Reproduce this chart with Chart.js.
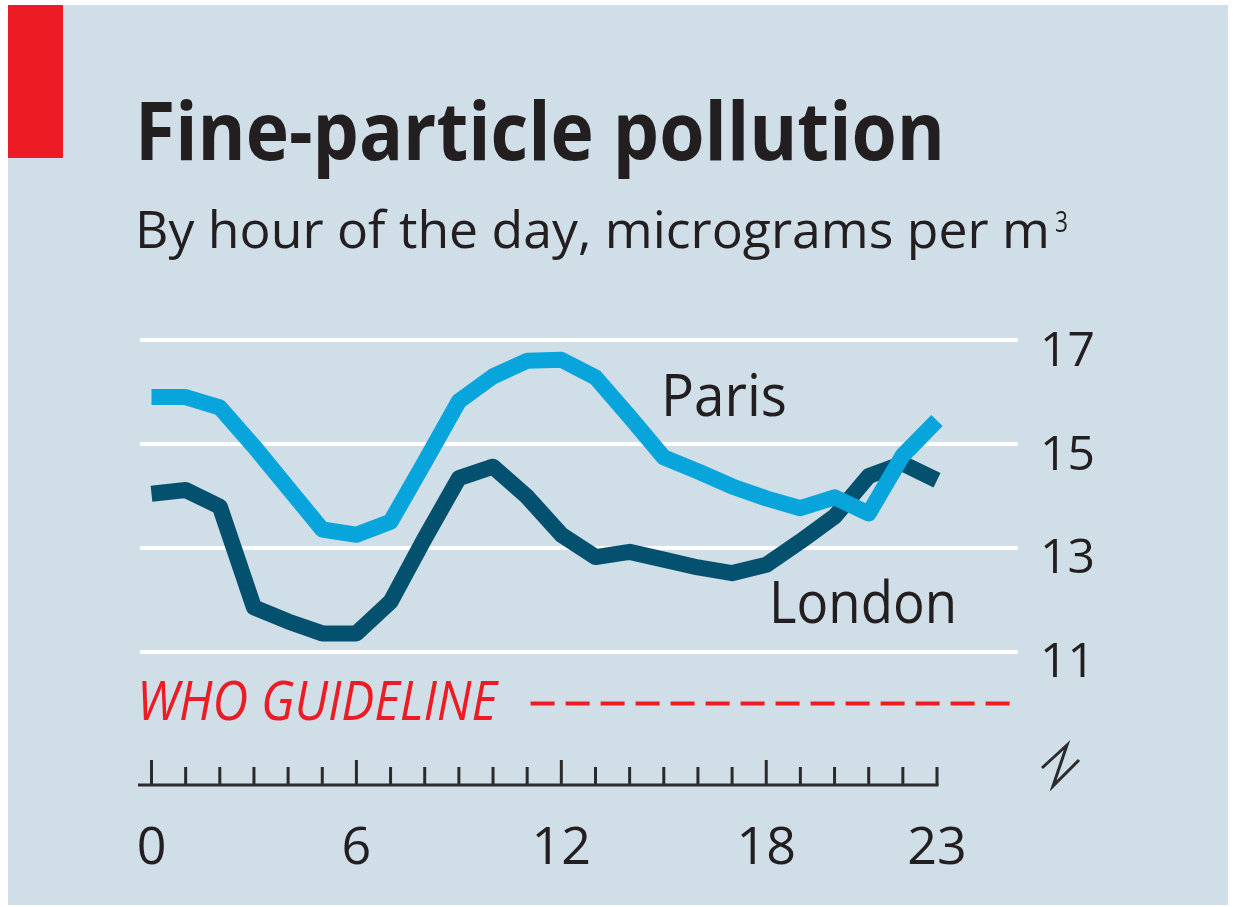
<!DOCTYPE html>
<html>
<head>
<meta charset="utf-8">
<script src="https://cdn.jsdelivr.net/npm/chart.js@4/dist/chart.umd.min.js"></script>
<style>
  html, body { margin: 0; padding: 0; background: #ffffff; }
  #wrap { width: 1233px; height: 907px; position: relative; }
  canvas { display: block; }
</style>
</head>
<body>
<div id="wrap"><canvas id="c" width="1233" height="907"></canvas></div>
<script>
// ---- data ----
const hours = [0, 1, 2, 3, 4, 5, 6, 7, 8, 9, 10, 11, 12, 13, 14, 15, 16, 17, 18, 19, 20, 21, 22, 23];
const paris = [15.9, 15.9, 15.7, 14.95, 14.15, 13.35, 13.25, 13.5, 14.65, 15.82, 16.3, 16.6, 16.62, 16.28, 15.52, 14.74, 14.47, 14.18, 13.95, 13.76, 13.97, 13.66, 14.78, 15.45];
const london = [14.04, 14.11, 13.79, 11.85, 11.58, 11.35, 11.35, 11.96, 13.18, 14.34, 14.56, 13.98, 13.25, 12.82, 12.92, 12.77, 12.62, 12.51, 12.67, 13.12, 13.6, 14.38, 14.62, 14.3];
const xTickLabels = [0, 6, 12, 18, 23];
const xMajorTicks = [0, 6, 12, 18];
const yTickValues = [11, 13, 15, 17];
const whoGuideline = 10;
const whoSpan = [11.1, 25.4];

const titleText = 'Fine-particle pollution';
const subtitleText = 'By hour of the day, micrograms per m';
const seriesNames = ['Paris', 'London'];

// ---- styles ----
const BG = '#cfdee7';
const RED = '#ed1c24';
const PARIS_C = '#07a5dc';
const LONDON_C = '#04506f';
const TEXT_C = '#231f20';
const FONT = '"Open Sans", "Noto Sans", "DejaVu Sans", sans-serif';

function fitText(ctx, text, x, y, font, width, color) {
  ctx.save();
  ctx.font = font;
  ctx.fillStyle = color;
  ctx.textBaseline = 'alphabetic';
  ctx.textAlign = 'left';
  const w = ctx.measureText(text).width;
  ctx.translate(x, y);
  ctx.scale(width / w, 1);
  ctx.fillText(text, 0, 0);
  ctx.restore();
}

const decor = {
  id: 'decor',
  beforeDraw(chart) {
    const ctx = chart.ctx;
    ctx.save();
    ctx.fillStyle = '#ffffff';
    ctx.fillRect(0, 0, chart.width, chart.height);
    ctx.fillStyle = BG;
    ctx.fillRect(8, 5, 1220, 900);
    ctx.fillStyle = RED;
    ctx.fillRect(8, 5, 55, 153);
    ctx.restore();

    // title & subtitle
    fitText(ctx, titleText, 135, 160, 'bold 80px ' + FONT, 810, TEXT_C);
    fitText(ctx, subtitleText, 135, 248, '52px ' + FONT, 915, TEXT_C);
    fitText(ctx, '3', 1055, 232, '30px ' + FONT, 13, TEXT_C);

    // gridlines
    const ys = chart.scales.y;
    ctx.save();
    ctx.strokeStyle = '#ffffff';
    ctx.lineWidth = 4;
    yTickValues.forEach(v => {
      const py = Math.round(ys.getPixelForValue(v));
      ctx.beginPath();
      ctx.moveTo(140, py);
      ctx.lineTo(1018, py);
      ctx.stroke();
    });
    ctx.restore();
  },
  afterDraw(chart) {
    const ctx = chart.ctx;
    const xs = chart.scales.x;
    const base = chart.chartArea.bottom;
    ctx.save();
    ctx.strokeStyle = '#2b2b2b';
    ctx.lineWidth = 3;
    ctx.beginPath();
    ctx.moveTo(138, base);
    ctx.lineTo(xs.getPixelForValue(23) + 1.5, base);
    ctx.stroke();
    hours.forEach(h => {
      const px = xs.getPixelForValue(h);
      const len = xMajorTicks.includes(h) ? 25 : 18;
      ctx.beginPath();
      ctx.moveTo(px, base);
      ctx.lineTo(px, base - len);
      ctx.stroke();
    });
    // axis break symbol
    ctx.lineWidth = 3;
    ctx.lineJoin = 'miter';
    ctx.beginPath();
    ctx.moveTo(1042, 768);
    ctx.lineTo(1067, 745);
    ctx.lineTo(1053, 786);
    ctx.lineTo(1079, 760);
    ctx.stroke();
    ctx.restore();

    // series labels
    fitText(ctx, seriesNames[0], 661, 416, '58px ' + FONT, 126, TEXT_C);
    fitText(ctx, seriesNames[1], 769, 623, '58px ' + FONT, 188, TEXT_C);
    fitText(ctx, 'WHO GUIDELINE', 137, 720, 'italic 54px ' + FONT, 360, RED);
  }
};

const ctx = document.getElementById('c').getContext('2d');
new Chart(ctx, {
  type: 'line',
  data: {
    datasets: [
      {
        label: seriesNames[0],
        data: hours.map((h, i) => ({ x: h, y: paris[i] })),
        borderColor: PARIS_C,
        borderWidth: 16,
        borderJoinStyle: 'round',
        pointRadius: 0,
        tension: 0,
        clip: false,
        order: 0
      },
      {
        label: seriesNames[1],
        data: hours.map((h, i) => ({ x: h, y: london[i] })),
        borderColor: LONDON_C,
        borderWidth: 16,
        borderJoinStyle: 'round',
        pointRadius: 0,
        tension: 0,
        clip: false,
        order: 1
      },
      {
        label: 'WHO guideline',
        data: whoSpan.map(x => ({ x: x, y: whoGuideline })),
        borderColor: RED,
        borderWidth: 4,
        borderDash: [24, 11],
        pointRadius: 0,
        clip: false,
        order: 2
      }
    ]
  },
  options: {
    responsive: false,
    animation: false,
    events: [],
    layout: { padding: { left: 151.5, top: 340, right: 0, bottom: 0 } },
    plugins: { legend: { display: false }, tooltip: { enabled: false }, title: { display: false } },
    scales: {
      x: {
        type: 'linear',
        min: 0,
        max: 23,
        grid: { display: false, drawTicks: false },
        border: { display: false },
        ticks: {
          stepSize: 1,
          autoSkip: false,
          maxRotation: 0,
          padding: 33,
          color: TEXT_C,
          font: { family: FONT, size: 52 },
          callback: v => (xTickLabels.includes(v) ? String(v) : '')
        },
        afterFit: s => { s.height = 122; s.paddingLeft = 0; s.paddingRight = 0; }
      },
      y: {
        type: 'linear',
        position: 'right',
        min: 8.43,
        max: 17,
        grid: { display: false, drawTicks: false },
        border: { display: false },
        afterBuildTicks: s => { s.ticks = yTickValues.map(v => ({ value: v })); },
        ticks: {
          padding: 103,
          labelOffset: 12,
          crossAlign: 'near',
          color: TEXT_C,
          font: { family: FONT, size: 48 }
        },
        afterFit: s => { s.width = 296; s.paddingTop = 0; s.paddingBottom = 0; }
      }
    }
  },
  plugins: [decor]
});
</script>
</body>
</html>
